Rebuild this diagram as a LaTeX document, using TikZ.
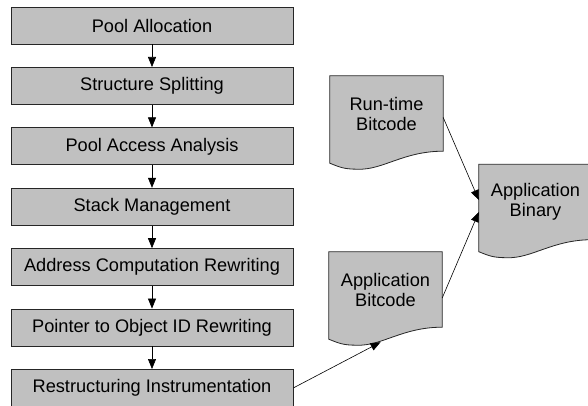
\documentclass[tikz,border=0pt]{standalone}
\usepackage{fontspec}
\setmainfont{Liberation Sans}
\usetikzlibrary{arrows.meta,backgrounds,calc}
\definecolor{boxgray}{RGB}{192,192,192}
\begin{document}
\begin{tikzpicture}[x=1pt,y=-1pt,
  lbl/.style={font=\fontsize{18.2}{20}\selectfont},
  stage/.style={lbl, draw=black!85, line width=0.8pt, fill=boxgray,
    minimum width=282pt, minimum height=37pt, inner sep=0pt},
  doctext/.style={lbl, minimum width=113pt, minimum height=75pt,
    inner sep=0pt, align=center},
  docline/.style={draw=black!85, line width=0.8pt, fill=boxgray},
  flow/.style={-{Triangle[length=10pt,width=8pt]}, line width=0.6pt}]
\useasboundingbox (0,0) rectangle (588,406);

% pipeline stages
\node[stage] (s1) at (152,25.5)  {Pool Allocation};
\node[stage] (s2) at (152,85.9)  {Structure Splitting};
\node[stage] (s3) at (152,146.3) {Pool Access Analysis};
\node[stage] (s4) at (152,206.7) {Stack Management};
\node[stage] (s5) at (152,267.1) {Address Computation Rewriting};
\node[stage] (s6) at (152,327.5) {Pointer to Object ID Rewriting};
\node[stage] (s7) at (152,387.9) {Restructuring Instrumentation};

% documents
\node[doctext] (rt)  at (386.5,113.5) {Run-time\\Bitcode};
\node[doctext] (ab)  at (385.5,289.5) {Application\\Bitcode};
\node[doctext] (bin) at (535.5,202)   {Application\\Binary};

\begin{scope}[on background layer]
  \foreach \d in {rt,ab,bin}{
    \path[docline] (\d.north west) -- (\d.north east) -- (\d.south east)
      .. controls +(-40,0) and +(25,1) .. ($(\d.south west)+(28,18)$)
      .. controls +(-14,0) and +(10,4) .. ($(\d.south west)+(0,12)$)
      -- cycle;
  }
\end{scope}

\coordinate (abin) at ($(ab.south)+(-5,15)$);

% connectors
\draw[flow] (s1) -- (s2);
\draw[flow] (s2) -- (s3);
\draw[flow] (s3) -- (s4);
\draw[flow] (s4) -- (s5);
\draw[flow] (s5) -- (s6);
\draw[flow] (s6) -- (s7);
\draw[flow] (s7.east) -- (abin);
\draw[flow] ($(rt.east)+(0,4)$) -- ($(bin.west)+(0,-2)$);
\draw[flow] ($(ab.east)+(0,8.5)$) -- ($(bin.west)+(0,10)$);
\end{tikzpicture}
\end{document}
